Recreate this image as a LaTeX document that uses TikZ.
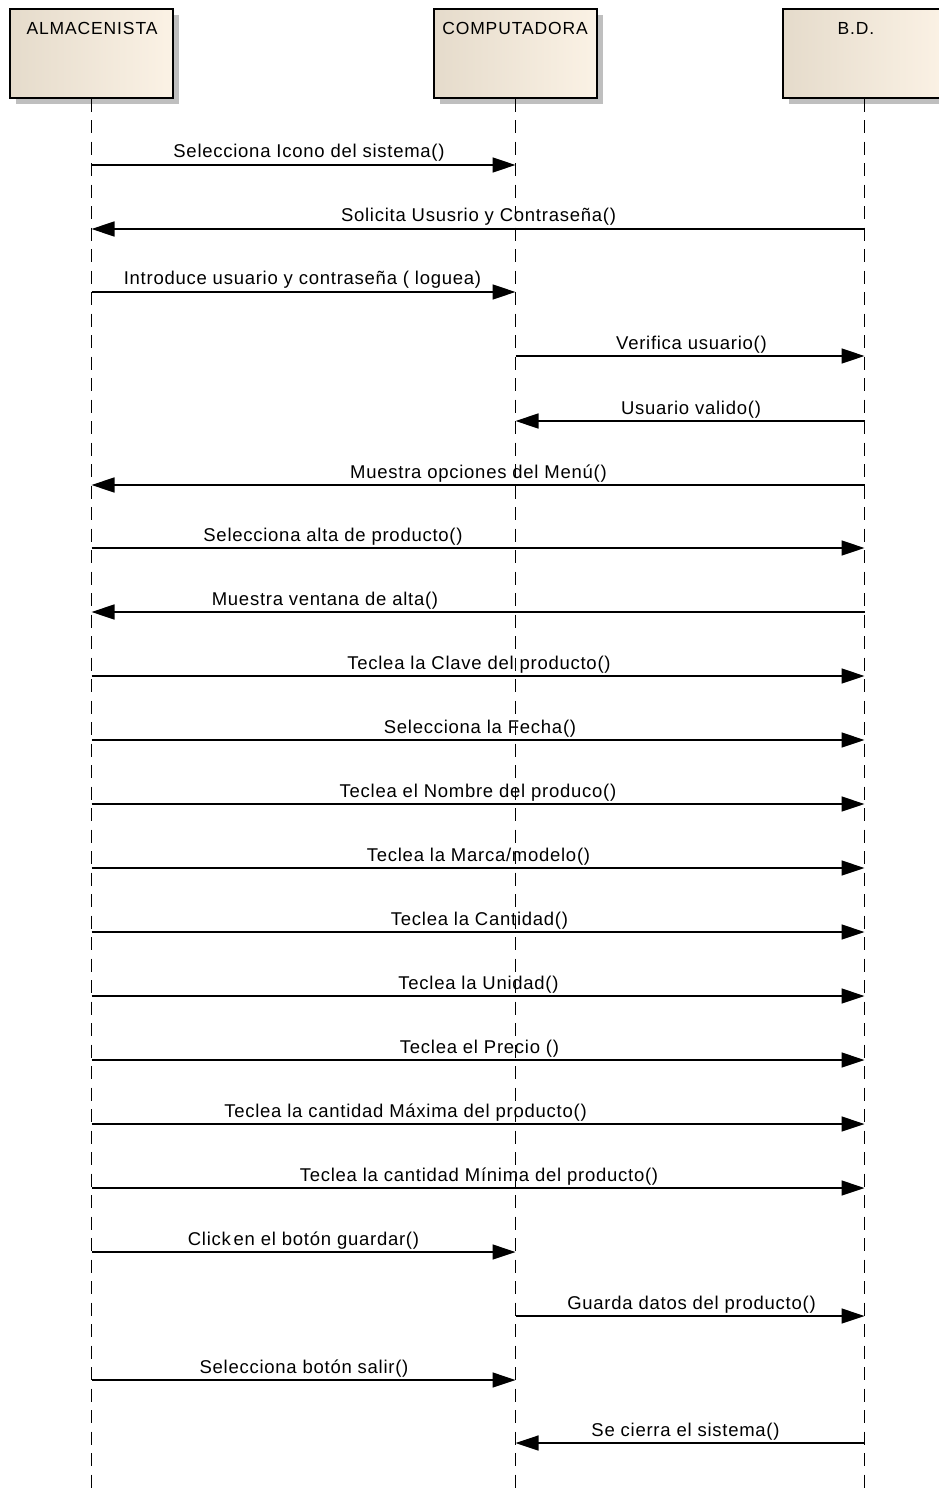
\documentclass[tikz,border=0pt]{standalone}
\usepackage{fontspec}
\setmainfont{Liberation Sans}
\newfontfamily\lblfont[LetterSpace=4]{Liberation Sans}
\newfontfamily\hdrfont[LetterSpace=5]{Liberation Sans}
\usetikzlibrary{arrows.meta,shadows,calc}
\definecolor{boxl}{HTML}{E5DBCB}
\definecolor{boxr}{HTML}{FBF2E5}
\definecolor{shad}{HTML}{BFBFBF}
\begin{document}
\begin{tikzpicture}[x=1pt,y=1pt,
  actor/.style={draw=black, line width=1.2pt, left color=boxl, right color=boxr,
    minimum width=163pt, minimum height=89pt, inner sep=0pt,
    drop shadow={shadow xshift=6pt, shadow yshift=-6pt, fill=shad, opacity=1}},
  hdr/.style={anchor=base, font=\hdrfont\fontsize{17.5}{20}\selectfont, inner sep=0pt},
  life/.style={draw=black, line width=1.6pt, dash pattern=on 13pt off 8.5pt},
  msg/.style={draw=black, line width=1.4pt, -{Triangle[length=23pt,width=15pt]}},
  lbl/.style={anchor=base, font=\lblfont\fontsize{18.5}{21}\selectfont, inner sep=0pt}]
\useasboundingbox (0,0) rectangle (938,-1495);
\fill[white] (0,0) rectangle (938,-1495);
% actors
\node[actor] (A) at (91.5,-53.5) {};
\node[actor] (C) at (515.5,-53.5) {};
\node[actor] (B) at (864.5,-53.5) {};
\node[hdr] (At) at (92,-35) {ALMACENISTA};
\node[hdr] (Ct) at (515,-35) {COMPUTADORA};
\node[hdr] (Bt) at (856,-35) {B.D.};
% lifelines
\coordinate (Ae) at (A.south |- 0,-1495);
\coordinate (Ce) at (C.south |- 0,-1495);
\coordinate (Be) at (B.south |- 0,-1495);
\draw[life] (A.south) -- (Ae);
\draw[life] (C.south) -- (Ce);
\draw[life] (B.south) -- (Be);
% messages
\draw[msg] (A.south |- 0,-165) -- (C.south |- 0,-165);
\node[lbl] (m1) at (309,-158) {Selecciona Icono del sistema()};
\draw[msg] (B.south |- 0,-229) -- (A.south |- 0,-229);
\node[lbl] (m2) at (478.5,-222) {Solicita Ususrio y Contraseña()};
\draw[msg] (A.south |- 0,-292) -- (C.south |- 0,-292);
\node[lbl] (m3) at (302.5,-285) {Introduce usuario y contraseña ( loguea)};
\draw[msg] (C.south |- 0,-356) -- (B.south |- 0,-356);
\node[lbl] (m4) at (691.5,-349) {Verifica usuario()};
\draw[msg] (B.south |- 0,-421) -- (C.south |- 0,-421);
\node[lbl] (m5) at (691,-414) {Usuario valido()};
\draw[msg] (B.south |- 0,-485) -- (A.south |- 0,-485);
\node[lbl] (m6) at (478.5,-478) {Muestra opciones del Menú()};
\draw[msg] (A.south |- 0,-548) -- (B.south |- 0,-548);
\node[lbl] (m7) at (333,-541) {Selecciona alta de producto()};
\draw[msg] (B.south |- 0,-612) -- (A.south |- 0,-612);
\node[lbl] (m8) at (325,-605) {Muestra ventana de alta()};
\draw[msg] (A.south |- 0,-676) -- (B.south |- 0,-676);
\node[lbl] (m9) at (479,-669) {Teclea la Clave del producto()};
\draw[msg] (A.south |- 0,-740) -- (B.south |- 0,-740);
\node[lbl] (m10) at (480,-733) {Selecciona la Fecha()};
\draw[msg] (A.south |- 0,-804) -- (B.south |- 0,-804);
\node[lbl] (m11) at (478,-797) {Teclea el Nombre del produco()};
\draw[msg] (A.south |- 0,-868) -- (B.south |- 0,-868);
\node[lbl] (m12) at (478.5,-861) {Teclea la Marca/modelo()};
\draw[msg] (A.south |- 0,-932) -- (B.south |- 0,-932);
\node[lbl] (m13) at (479.5,-925) {Teclea la Cantidad()};
\draw[msg] (A.south |- 0,-996) -- (B.south |- 0,-996);
\node[lbl] (m14) at (478.5,-989) {Teclea la Unidad()};
\draw[msg] (A.south |- 0,-1060) -- (B.south |- 0,-1060);
\node[lbl] (m15) at (479.5,-1053) {Teclea el Precio ()};
\draw[msg] (A.south |- 0,-1124) -- (B.south |- 0,-1124);
\node[lbl] (m16) at (405.5,-1117) {Teclea la cantidad Máxima del producto()};
\draw[msg] (A.south |- 0,-1188) -- (B.south |- 0,-1188);
\node[lbl] (m17) at (479,-1181) {Teclea la cantidad Mínima del producto()};
\draw[msg] (A.south |- 0,-1252) -- (C.south |- 0,-1252);
\node[lbl] (m18) at (303.5,-1245) {Click\kern0.15em en el botón guardar()};
\draw[msg] (C.south |- 0,-1316) -- (B.south |- 0,-1316);
\node[lbl] (m19) at (691.5,-1309) {Guarda datos del producto()};
\draw[msg] (A.south |- 0,-1380) -- (C.south |- 0,-1380);
\node[lbl] (m20) at (304,-1373) {Selecciona botón salir()};
\draw[msg] (B.south |- 0,-1443) -- (C.south |- 0,-1443);
\node[lbl] (m21) at (685.5,-1436) {Se cierra el sistema()};
\end{tikzpicture}
\end{document}
